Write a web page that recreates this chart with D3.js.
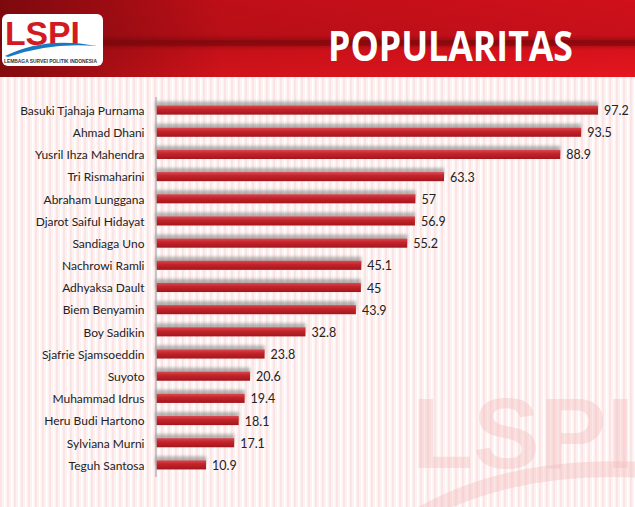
<!DOCTYPE html>
<html><head><meta charset="utf-8">
<script src="https://cdn.jsdelivr.net/npm/d3@7"></script>
<style>html,body{margin:0;padding:0;background:#fff;}svg{display:block;}</style>
</head><body>
<script>
const names = ["Basuki Tjahaja Purnama","Ahmad Dhani","Yusril Ihza Mahendra","Tri Rismaharini","Abraham Lunggana","Djarot Saiful Hidayat","Sandiaga Uno","Nachrowi Ramli","Adhyaksa Dault","Biem Benyamin","Boy Sadikin","Sjafrie Sjamsoeddin","Suyoto","Muhammad Idrus","Heru Budi Hartono","Sylviana Murni","Teguh Santosa"];
const values = [97.2,93.5,88.9,63.3,57,56.9,55.2,45.1,45,43.9,32.8,23.8,20.6,19.4,18.1,17.1,10.9];
const valueLabels = ["97.2","93.5","88.9","63.3","57","56.9","55.2","45.1","45","43.9","32.8","23.8","20.6","19.4","18.1","17.1","10.9"];
const title = "POPULARITAS";
const logoText = "LSPI";
const logoSub = "LEMBAGA SURVEI POLITIK INDONESIA";

const W = 635, H = 507;
const svg = d3.select("body").append("svg").attr("width", W).attr("height", H);
const defs = svg.append("defs");

// background stripes
const pat = defs.append("pattern").attr("id","stripes").attr("patternUnits","userSpaceOnUse").attr("width",7).attr("height",10);
pat.append("rect").attr("width",7).attr("height",10).attr("fill","#fdf1f1");
pat.append("rect").attr("x",0).attr("width",2).attr("height",10).attr("fill","#fbe4e4");
pat.append("rect").attr("x",4).attr("width",1.5).attr("height",10).attr("fill","#ffffff");
svg.append("rect").attr("width",W).attr("height",H).attr("fill","url(#stripes)");

// watermark
svg.append("text").attr("x",412).attr("y",468).attr("font-family","Liberation Sans, Arial, sans-serif")
  .attr("font-weight","bold").attr("font-size",100).attr("fill","#f2b9b9").attr("opacity",0.38).text(logoText);
svg.append("path").attr("d","M405,515 Q500,455 645,462 L645,478 Q520,470 425,520 Z").attr("fill","#f2b9b9").attr("opacity",0.38);

// header
const hg = defs.append("linearGradient").attr("id","hdr").attr("x1",0).attr("x2",0).attr("y1",0).attr("y2",1);
hg.append("stop").attr("offset","0%").attr("stop-color","#d0101a");
hg.append("stop").attr("offset","45%").attr("stop-color","#c8101a");
hg.append("stop").attr("offset","55%").attr("stop-color","#9a0a10");
hg.append("stop").attr("offset","65%").attr("stop-color","#d8121b");
hg.append("stop").attr("offset","100%").attr("stop-color","#e5161f");
svg.append("rect").attr("width",W).attr("height",77).attr("fill","url(#hdr)");
const hg2 = defs.append("linearGradient").attr("id","hdr2").attr("x1",0).attr("x2",1).attr("y1",0).attr("y2",0);
hg2.append("stop").attr("offset","0%").attr("stop-color","#5a0608").attr("stop-opacity",0.7);
hg2.append("stop").attr("offset","35%").attr("stop-color","#5a0608").attr("stop-opacity",0.15);
hg2.append("stop").attr("offset","100%").attr("stop-color","#5a0608").attr("stop-opacity",0);
svg.append("rect").attr("width",W).attr("height",77).attr("fill","url(#hdr2)");
svg.append("rect").attr("y",40).attr("width",W).attr("height",6).attr("fill","#7a080c").attr("opacity",0.5);

// logo
svg.append("rect").attr("x",2).attr("y",14).attr("width",101).attr("height",52).attr("rx",6).attr("fill","#ffffff");
svg.append("text").attr("x",5).attr("y",45).attr("font-family","Liberation Sans, Arial, sans-serif").attr("font-weight","bold")
  .attr("font-size",34).attr("fill","#d11a22").attr("textLength",75).attr("lengthAdjust","spacingAndGlyphs").text(logoText);
svg.append("path").attr("d","M5,56 Q45,36 97,46 Q50,42 8,57 Z").attr("fill","#1a78c2");
svg.append("text").attr("x",4).attr("y",63).attr("font-family","Liberation Sans, Arial, sans-serif").attr("font-weight","bold")
  .attr("font-size",5).attr("fill","#333").attr("textLength",93).attr("lengthAdjust","spacingAndGlyphs").text(logoSub);

// title
svg.append("text").attr("x",328).attr("y",61).attr("font-family","Open Sans, sans-serif").attr("font-weight","bold")
  .attr("font-size",42).attr("fill","#ffffff").attr("textLength",245).attr("lengthAdjust","spacingAndGlyphs").text(title);

// scales
const x = d3.scaleLinear().domain([0,100]).range([156.5, 610.7]);
const y = d3.scaleBand().domain(names).range([99,476]).paddingInner(0.59).paddingOuter(0.295);

// bar gradient + shadow
const bg = defs.append("linearGradient").attr("id","bar").attr("x1",0).attr("x2",0).attr("y1",0).attr("y2",1);
bg.append("stop").attr("offset","0%").attr("stop-color","#d94a50");
bg.append("stop").attr("offset","40%").attr("stop-color","#c4242b");
bg.append("stop").attr("offset","100%").attr("stop-color","#a3161c");
const f = defs.append("filter").attr("id","blur").attr("x","-10%").attr("y","-100%").attr("width","120%").attr("height","300%");
f.append("feGaussianBlur").attr("stdDeviation",1.6);

const g = svg.append("g");
g.selectAll("rect.sh").data(names).join("rect").attr("class","sh")
  .attr("x", x(0)-1).attr("y", d => y(d)-4)
  .attr("width", (d,i) => x(values[i]) - x(0) + 1).attr("height", y.bandwidth())
  .attr("fill","#7a7a7a").attr("opacity",0.55).attr("filter","url(#blur)");
g.selectAll("rect.bar").data(names).join("rect").attr("class","bar")
  .attr("x", x(0)).attr("y", d => y(d))
  .attr("width", (d,i) => x(values[i]) - x(0)).attr("height", y.bandwidth())
  .attr("fill","url(#bar)");

// value labels
g.selectAll("text.val").data(names).join("text").attr("class","val")
  .attr("x", (d,i) => x(values[i]) + 6).attr("y", d => y(d) + y.bandwidth()/2 + 5)
  .attr("font-family","Lato, sans-serif").attr("font-size",12.5).attr("fill","#222")
  .text((d,i) => valueLabels[i]);

// category axis
const yAxis = d3.axisLeft(y).tickSize(0).tickPadding(12);
const ax = svg.append("g").attr("transform",`translate(${x(0)},0)`).call(yAxis);
ax.select(".domain").remove();
ax.selectAll("text").attr("font-family","Lato, sans-serif").attr("font-size",12).attr("fill","#222").attr("dy","0.4em");
svg.append("line").attr("x1",x(0)-0.5).attr("x2",x(0)-0.5).attr("y1",97).attr("y2",477).attr("stroke","#9a9a9a").attr("stroke-width",1);
</script>
</body></html>
